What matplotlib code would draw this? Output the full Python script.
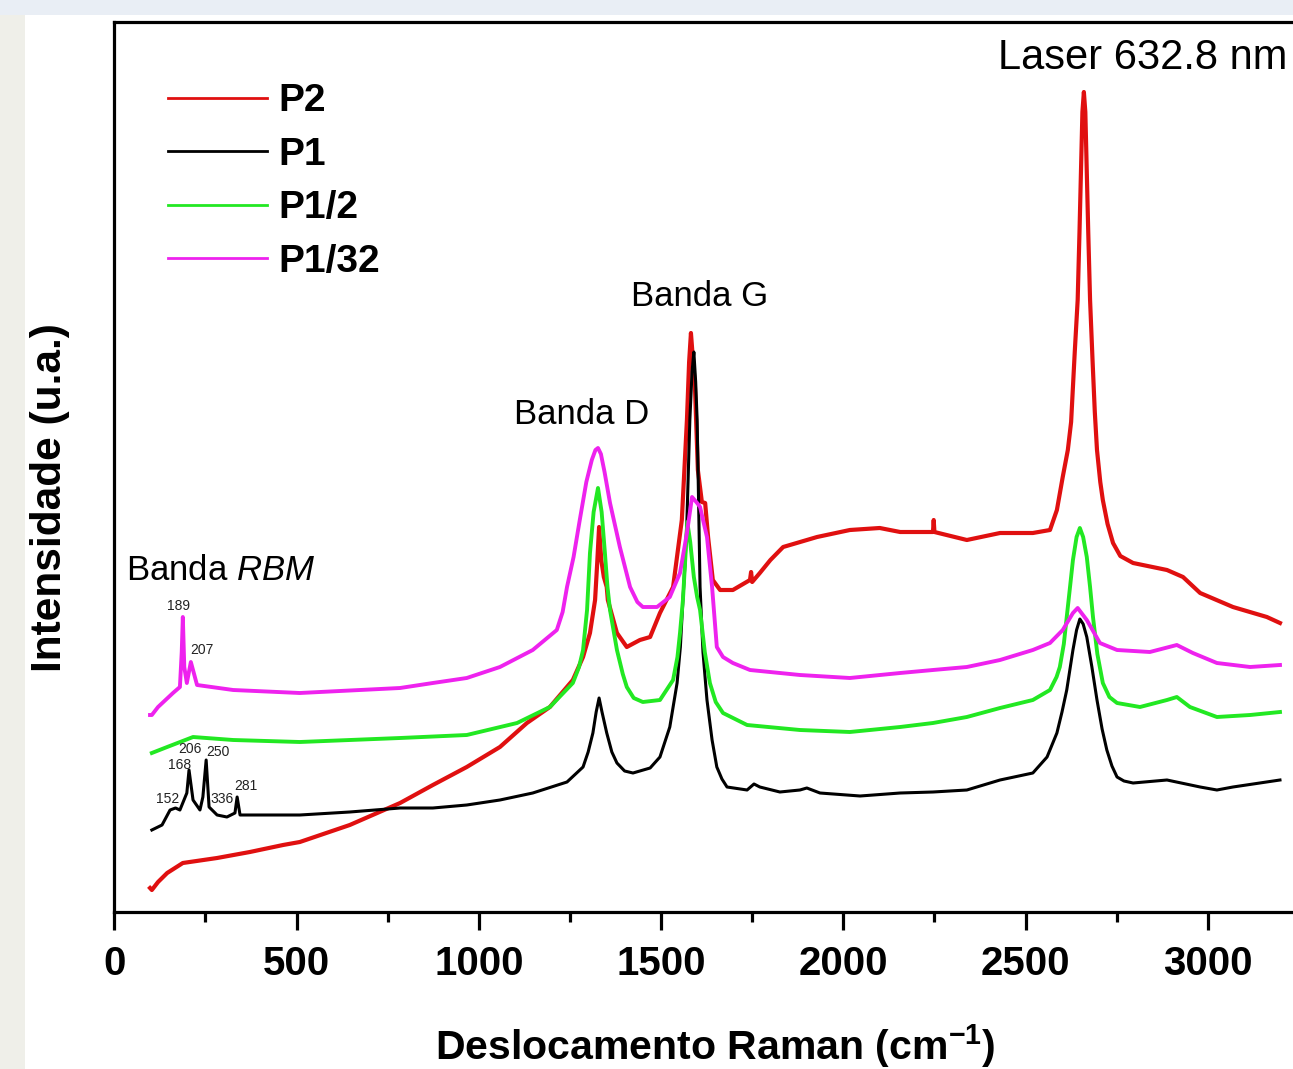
import matplotlib
matplotlib.use("Agg")
import matplotlib.pyplot as plt
from matplotlib.patches import Rectangle

plt.rcParams['font.family'] = ['Liberation Sans', 'DejaVu Sans']
plt.rcParams['mathtext.fontset'] = 'custom'
plt.rcParams['mathtext.rm'] = 'Liberation Sans'
plt.rcParams['mathtext.bf'] = 'Liberation Sans:bold'
plt.rcParams['mathtext.it'] = 'Liberation Sans:italic'

# ---------------- data (Raman shift cm^-1, intensity a.u.) ----------------
p2_x = [98, 103, 120, 145, 188, 282, 372, 463, 509, 646, 784, 874, 967, 1058, 1132, 1195,
        1258, 1286, 1305, 1319, 1325, 1330, 1336, 1343, 1351, 1354, 1379, 1406, 1442, 1470,
        1497, 1533, 1557, 1571, 1577, 1582, 1587, 1593, 1601, 1612, 1621, 1629, 1642, 1662,
        1697, 1744, 1747, 1750, 1771, 1800, 1835, 1928, 2018, 2100, 2156, 2246, 2248, 2250,
        2339, 2430, 2520, 2567, 2586, 2602, 2616, 2625, 2635, 2643, 2648, 2652, 2656, 2660,
        2664, 2668, 2672, 2677, 2684, 2690, 2696, 2705, 2712, 2725, 2740, 2760, 2795, 2888,
        2932, 2979, 3069, 3162, 3198]
p2_y = [24, 22, 30, 39, 49, 54, 60, 67, 70, 87, 109, 127, 145, 165, 189, 205,
        232, 255, 279, 312, 350, 385, 352, 335, 325, 312, 279, 265, 272, 275,
        299, 325, 392, 492, 550, 579, 555, 525, 442, 410, 409, 375, 332, 322,
        322, 332, 340, 330, 339, 352, 365, 375, 382, 384, 380, 380, 392, 380,
        372, 379, 379, 382, 402, 435, 462, 490, 560, 612, 680, 740, 800, 820,
        800, 740, 680, 612, 550, 500, 462, 430, 412, 388, 369, 356, 349, 342,
        335, 319, 305, 295, 289]

p1_x = [103, 131, 153, 168, 180, 199, 205, 216, 235, 243, 252, 260, 282, 309, 331, 337,
        345, 419, 509, 646, 784, 874, 967, 1058, 1148, 1242, 1286, 1300, 1313, 1322, 1330,
        1338, 1351, 1365, 1379, 1400, 1423, 1470, 1497, 1524, 1544, 1553, 1560, 1566, 1571,
        1579, 1585, 1590, 1595, 1599, 1603, 1607, 1615, 1626, 1640, 1653, 1667, 1681, 1736,
        1755, 1771, 1826, 1881, 1900, 1936, 2046, 2156, 2246, 2339, 2430, 2520, 2559, 2586,
        2600, 2613, 2630, 2640, 2649, 2658, 2668, 2682, 2696, 2710, 2723, 2737, 2751, 2770,
        2795, 2888, 2979, 3025, 3069, 3198]
p1_y = [82, 87, 102, 104, 102, 119, 142, 112, 102, 115, 152, 105, 97, 95, 99, 115,
        97, 97, 97, 100, 104, 104, 107, 112, 119, 130, 145, 160, 179, 200, 214,
        200, 179, 160, 149, 141, 139, 144, 155, 185, 229, 265, 312, 350, 392,
        492, 540, 560, 530, 492, 410, 325, 260, 212, 172, 145, 133, 125, 122,
        128, 125, 120, 122, 124, 119, 116, 119, 120, 122, 132, 139, 155, 179,
        200, 222, 262, 282, 293, 288, 275, 245, 212, 183, 162, 146, 135, 131,
        129, 132, 125, 122, 125, 132]

p12_x = [103, 145, 216, 326, 509, 784, 967, 1105, 1195, 1258, 1275, 1286, 1297, 1305, 1315,
         1327, 1337, 1346, 1353, 1360, 1379, 1395, 1406, 1425, 1450, 1497, 1533, 1545, 1552,
         1560, 1566, 1572, 1580, 1590, 1599, 1607, 1620, 1634, 1650, 1670, 1736, 1881, 2018,
         2156, 2246, 2339, 2430, 2520, 2567, 2585, 2594, 2605, 2613, 2622, 2630, 2640, 2649,
         2658, 2668, 2677, 2685, 2697, 2712, 2730, 2751, 2814, 2888, 2915, 2951, 3025, 3116,
         3198]
p12_y = [159, 165, 175, 172, 170, 174, 177, 189, 205, 229, 245, 262, 302, 359, 400,
         424, 400, 359, 325, 302, 262, 238, 225, 214, 210, 212, 232, 255, 279,
         312, 350, 390, 370, 335, 315, 302, 260, 229, 210, 199, 187, 182, 180,
         185, 189, 195, 204, 212, 222, 235, 245, 268, 295, 325, 352, 375, 384,
         375, 355, 325, 295, 258, 229, 215, 209, 205, 212, 215, 205, 195, 197,
         200]

p132_x = [98, 103, 120, 161, 180, 185, 188, 192, 199, 210, 227, 326, 509, 784, 874, 967,
          1058, 1148, 1214, 1230, 1242, 1260, 1277, 1295, 1310, 1320, 1327, 1335, 1345, 1360,
          1387, 1415, 1435, 1450, 1489, 1524, 1552, 1571, 1585, 1599, 1607, 1626, 1640, 1653,
          1670, 1697, 1744, 1881, 2018, 2156, 2246, 2339, 2430, 2520, 2567, 2602, 2630, 2643,
          2668, 2704, 2751, 2841, 2915, 2959, 3025, 3116, 3198]
p132_y = [197, 197, 205, 219, 225, 260, 295, 245, 229, 250, 227, 222, 219, 224, 229, 234,
          245, 262, 282, 300, 325, 355, 392, 430, 452, 462, 464, 458, 440, 409,
          365, 325, 310, 305, 305, 315, 339, 379, 415, 409, 405, 375, 325, 265,
          255, 249, 242, 237, 234, 239, 242, 245, 252, 262, 269, 282, 299, 304,
          292, 269, 262, 260, 267, 259, 249, 245, 247]

series_names = ['P2', 'P1', 'P1/2', 'P1/32']
series_colors = ['#e01010', '#000000', '#22e822', '#ee22ee']

rbm_labels = ['189', '207', '206', '250', '168', '152', '336', '281']
rbm_label_x = [175, 241, 208, 285, 178, 145, 296, 361]
rbm_label_y = [306, 262, 163, 160, 147, 113, 113, 126]

# ---------------- figure ----------------
W, H = 1293, 1069
fig = plt.figure(figsize=(W / 100, H / 100), dpi=100, facecolor='white')

# page background strips
fig.patches.append(Rectangle((0, 0), 25 / W, 1, transform=fig.transFigure,
                             facecolor='#efefe9', edgecolor='none', zorder=-5))
fig.patches.append(Rectangle((0, 1 - 15 / H), 1, 15 / H, transform=fig.transFigure,
                             facecolor='#e9eef5', edgecolor='none', zorder=-5))

ax_left = 114.3
ax_bottom = 912
ax_top = 22
xmax = 3300
px_per_unit = 0.3645
ax_w = xmax * px_per_unit
ax = fig.add_axes([ax_left / W, (H - ax_bottom) / H, ax_w / W, (ax_bottom - ax_top) / H])
ax.set_xlim(0, xmax)
ax.set_ylim(0, ax_bottom - ax_top)

lws = [3.0, 2.2, 2.8, 2.8]
data = [(p2_x, p2_y), (p1_x, p1_y), (p12_x, p12_y), (p132_x, p132_y)]
for (xs, ys), name, c, lw in zip(data, series_names, series_colors, lws):
    ax.plot(xs, ys, color=c, lw=lw, label=name, solid_joinstyle='round')

for lab, lx, ly in zip(rbm_labels, rbm_label_x, rbm_label_y):
    ax.text(lx, ly, lab, fontsize=10, ha='center', va='center', color='#222222')

ax.text(1607, 616, 'Banda G', fontsize=25, ha='center', va='center')
ax.text(1281, 497, 'Banda D', fontsize=25, ha='center', va='center')
ax.text(32, 341, r'Banda $\mathit{RBM}$', fontsize=25, ha='left', va='center')
ax.text(2425, 854, 'Laser 632.8 nm', fontsize=30, ha='left', va='center')

# spines / ticks
for s in ['left', 'top', 'bottom']:
    ax.spines[s].set_linewidth(2.3)
ax.spines['right'].set_visible(False)
ax.set_yticks([])
ax.set_xticks([0, 500, 1000, 1500, 2000, 2500, 3000])
ax.set_xticks([250, 750, 1250, 1750, 2250, 2750, 3250], minor=True)
ax.tick_params(axis='x', which='major', direction='out', length=13, width=2.3, pad=11,
               labelsize=29)
ax.tick_params(axis='x', which='minor', direction='out', length=7, width=2.3)
for t in ax.get_xticklabels():
    t.set_fontweight('bold')

ax.set_xlabel(r'Deslocamento Raman (cm$^{\mathbf{-1}}$)', fontsize=29.5, fontweight='bold',
              labelpad=28)
ax.set_ylabel('Intensidade (u.a.)', fontsize=30.5, fontweight='bold')
ax.yaxis.set_label_coords(-0.037, 0.466)

leg = ax.legend(loc='upper left', bbox_to_anchor=(0.0446, 0.931), frameon=False,
                prop={'weight': 'bold', 'size': 28}, handlelength=2.55,
                handletextpad=0.28, labelspacing=0.45, borderpad=0, borderaxespad=0)
for lh in leg.get_lines():
    lh.set_linewidth(2.0)

fig.savefig('out.png', dpi=100, facecolor=fig.get_facecolor())
